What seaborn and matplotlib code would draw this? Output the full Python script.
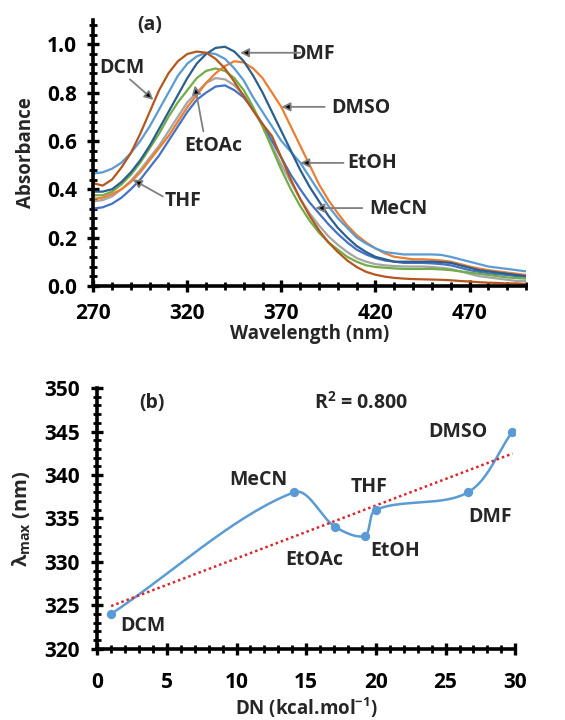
import numpy as np
import pandas as pd
import matplotlib
matplotlib.use("Agg")
import matplotlib.pyplot as plt
from matplotlib.ticker import MultipleLocator, FormatStrFormatter, FixedLocator
import seaborn as sns

# ---------------- data ----------------
wavelength = list(range(270, 505, 5))

abs_dcm = [.425, .415, .44, .49, .55, .63, .72, .81, .88, .93, .96, .97, .965, .94, .90, .845,
           .785, .725, .67, .62, .53, .44, .36, .29, .23, .18, .14, .105, .078, .058, .046, .038,
           .033, .030, .028, .027, .026, .025, .023, .020, .018, .015, .013, .012, .010, .010, .008]
abs_dmf = [.39, .39, .40, .43, .47, .52, .58, .65, .72, .79, .86, .92, .96, .985, .99, .97,
           .93, .87, .80, .72, .64, .56, .48, .41, .35, .29, .24, .20, .165, .14, .12, .11,
           .10, .10, .10, .10, .10, .098, .095, .085, .075, .065, .06, .055, .05, .045, .04]
abs_dmso = [.36, .365, .38, .40, .43, .47, .52, .57, .62, .68, .74, .79, .84, .88, .91, .93,
            .925, .90, .86, .80, .74, .66, .58, .50, .42, .355, .30, .25, .21, .18, .155, .135,
            .12, .115, .11, .11, .108, .105, .10, .09, .08, .072, .065, .06, .055, .05, .045]
abs_etoac = [.375, .375, .39, .42, .46, .51, .57, .63, .70, .76, .81, .86, .89, .90, .89, .86,
             .81, .74, .66, .57, .48, .40, .33, .27, .22, .18, .15, .12, .10, .085, .078, .075,
             .072, .07, .07, .07, .07, .068, .065, .06, .055, .05, .045, .04, .035, .032, .03]
abs_etoh = [.465, .47, .485, .51, .55, .60, .66, .73, .80, .87, .92, .95, .965, .96, .94, .90,
            .85, .78, .72, .66, .60, .555, .51, .45, .39, .33, .28, .24, .20, .175, .155, .14,
            .135, .13, .13, .13, .13, .128, .12, .11, .10, .09, .08, .075, .07, .065, .06]
abs_mecn = [.32, .325, .34, .365, .40, .44, .49, .54, .60, .66, .72, .77, .80, .825, .83, .81,
            .78, .73, .67, .60, .53, .46, .40, .345, .30, .255, .215, .18, .15, .13, .115, .105,
            .10, .095, .095, .095, .093, .09, .085, .075, .065, .058, .052, .048, .045, .04, .038]
abs_thf = [.35, .355, .37, .40, .435, .48, .53, .58, .64, .70, .76, .80, .84, .86, .855, .83,
           .79, .73, .66, .58, .50, .43, .36, .30, .25, .205, .17, .14, .115, .10, .09, .085,
           .082, .08, .08, .08, .078, .075, .07, .06, .05, .04, .035, .03, .025, .02, .02]

solvent_order = ["THF", "MeCN", "EtOAc", "DMSO", "EtOH", "DMF", "DCM"]
spectra = {"DCM": abs_dcm, "DMF": abs_dmf, "DMSO": abs_dmso, "EtOAc": abs_etoac,
           "EtOH": abs_etoh, "MeCN": abs_mecn, "THF": abs_thf}
colors = {"DCM": "#B5561F", "DMF": "#2B5F8E", "DMSO": "#ED7D31", "EtOAc": "#70AD47",
          "EtOH": "#5B9BD5", "MeCN": "#4472C4", "THF": "#A5A5A5"}

x_ticks_a = [270, 320, 370, 420, 470]

dn_solvents = ["DCM", "MeCN", "EtOAc", "EtOH", "THF", "DMF", "DMSO"]
dn_values = [1.0, 14.1, 17.1, 19.2, 20.0, 26.6, 29.8]
lambda_max = [324, 338, 334, 333, 336, 338, 345]
r2_text = "0.800"

# ---------------- style ----------------
FONT = "Open Sans"
sns.set_theme(style="white")
plt.rcParams["font.family"] = [FONT, "DejaVu Sans"]
plt.rcParams["font.weight"] = "bold"
plt.rcParams["mathtext.fontset"] = "custom"
plt.rcParams["mathtext.rm"] = FONT + ":bold"
plt.rcParams["mathtext.bf"] = FONT + ":bold"
plt.rcParams["mathtext.it"] = FONT + ":bold"

fig = plt.figure(figsize=(5.65, 7.2), dpi=100)
ax1 = fig.add_axes([0.165, 0.603, 0.766, 0.369])
ax2 = fig.add_axes([0.172, 0.099, 0.740, 0.362])

FS = 14
TFS = 15


def style_axis(ax, xpad, ypad):
    for s in ["top", "right"]:
        ax.spines[s].set_visible(False)
    for s in ["left", "bottom"]:
        ax.spines[s].set_linewidth(2.6)
        ax.spines[s].set_color("black")
    ax.tick_params(which="major", direction="inout", length=9, width=2.4,
                   labelsize=TFS, colors="black")
    ax.tick_params(which="minor", direction="inout", length=6, width=2.0, colors="black")
    ax.tick_params(axis="x", which="both", bottom=True, pad=xpad)
    ax.tick_params(axis="y", which="both", left=True, pad=ypad)
    ax.grid(False)


# ---------------- panel (a) ----------------
rows = []
for name in solvent_order:
    for w, a in zip(wavelength, spectra[name]):
        rows.append({"wavelength": w, "absorbance": a, "solvent": name})
df_spec = pd.DataFrame(rows)
sns.lineplot(data=df_spec, x="wavelength", y="absorbance", hue="solvent",
             hue_order=solvent_order, palette=colors, linewidth=1.6,
             legend=False, ax=ax1, estimator=None)
ax1.set_xlim(270, 500)
ax1.set_ylim(0, 1.1)
ax1.xaxis.set_major_locator(FixedLocator(x_ticks_a))
ax1.xaxis.set_minor_locator(FixedLocator(list(range(270, 501, 10))))
ax1.yaxis.set_major_locator(MultipleLocator(0.2))
ax1.yaxis.set_minor_locator(MultipleLocator(0.04))
ax1.yaxis.set_major_formatter(FormatStrFormatter("%.1f"))
ax1.set_xlabel("Wavelength (nm)", fontsize=13.5, fontweight="bold", labelpad=0)
ax1.set_ylabel("Absorbance", fontsize=13.5, fontweight="bold", labelpad=8)
style_axis(ax1, xpad=8, ypad=7)
ax1.text(300, 1.08, "(a)", fontsize=FS, fontweight="bold", ha="center", va="center")

arrow_kw = dict(arrowstyle="-|>", edgecolor="#808080", facecolor="black",
                lw=1.3, mutation_scale=13, shrinkA=0, shrinkB=0)
labels_a = [
    ("DCM", (285, 0.90), (289.5, 0.855), (302, 0.77)),
    ("DMF", (387, 0.96), (380, 0.965), (348, 0.965)),
    ("DMSO", (412, 0.737), (393, 0.741), (370, 0.741)),
    ("EtOAc", (334, 0.578), (328.5, 0.64), (324, 0.83)),
    ("EtOH", (418, 0.509), (403, 0.509), (380, 0.509)),
    ("MeCN", (432, 0.318), (413, 0.322), (388, 0.322)),
    ("THF", (318, 0.35), (307, 0.37), (291, 0.44)),
]
for text, tpos, start, tip in labels_a:
    ax1.text(tpos[0], tpos[1], text, fontsize=FS, fontweight="bold",
             ha="center", va="center")
    ax1.annotate("", xy=tip, xytext=start, arrowprops=arrow_kw)

# ---------------- panel (b) ----------------
def excel_smooth(xs, ys, sx=13.9, sy=8.7, n=60):
    """Bezier smoothing through the points, handle lengths scaled by the
    on-screen segment lengths (Excel-like 'smoothed line')."""
    P = np.column_stack([np.asarray(xs, float) * sx, np.asarray(ys, float) * sy])
    m = len(P)
    out = []
    for i in range(m - 1):
        p1, p2 = P[i], P[i + 1]
        d12 = np.linalg.norm(p2 - p1)
        if i > 0:
            d01 = np.linalg.norm(p1 - P[i - 1])
            c1 = p1 + (p2 - P[i - 1]) * d12 / (d01 + d12) / 3.0
        else:
            c1 = p1 + (p2 - p1) / 3.0
        if i + 2 < m:
            d23 = np.linalg.norm(P[i + 2] - p2)
            c2 = p2 - (P[i + 2] - p1) * d12 / (d12 + d23) / 3.0
        else:
            c2 = p2 - (p2 - p1) / 3.0
        t = np.linspace(0, 1, n)[:, None]
        seg = ((1 - t) ** 3) * p1 + 3 * ((1 - t) ** 2) * t * c1 + 3 * (1 - t) * t ** 2 * c2 + t ** 3 * p2
        out.append(seg if i == 0 else seg[1:])
    res = np.vstack(out)
    return res[:, 0] / sx, res[:, 1] / sy

cx, cy = excel_smooth(dn_values, lambda_max)
df_curve = pd.DataFrame({"DN": cx, "lmax": cy})
df_pts = pd.DataFrame({"DN": dn_values, "lmax": lambda_max, "solvent": dn_solvents})

sns.lineplot(data=df_curve, x="DN", y="lmax", sort=False, estimator=None,
             color="#5B9BD5", linewidth=1.8, ax=ax2)
sns.regplot(data=df_pts, x="DN", y="lmax", scatter=False, ci=None, ax=ax2,
            line_kws=dict(color="#D9262B", linestyle=(0, (1, 1.2)), linewidth=1.8))
sns.scatterplot(data=df_pts, x="DN", y="lmax", color="#5B9BD5", s=45,
                edgecolor="#5B9BD5", linewidth=0, ax=ax2, zorder=5)

ax2.set_xlim(0, 30)
ax2.set_ylim(320, 350)
ax2.xaxis.set_major_locator(MultipleLocator(5))
ax2.xaxis.set_minor_locator(MultipleLocator(1))
ax2.yaxis.set_major_locator(MultipleLocator(5))
ax2.yaxis.set_minor_locator(MultipleLocator(1))
ax2.set_xlabel(r"DN (kcal.mol$^{-1}$)", fontsize=13.5, fontweight="bold", labelpad=2)
ax2.set_ylabel(r"λ$_{\mathrm{max}}$ (nm)", fontsize=14.5, fontweight="bold", labelpad=8)
style_axis(ax2, xpad=12, ypad=8)

ax2.text(3.9, 348.3, "(b)", fontsize=FS, fontweight="bold", ha="center", va="center")
ax2.text(18.9, 348.3, r"R$^{2}$ = " + r2_text, fontsize=FS,
         fontweight="bold", ha="center", va="center")
label_pos_b = {"DCM": (3.3, 322.6), "MeCN": (11.6, 339.4), "EtOAc": (15.6, 330.2),
               "EtOH": (21.4, 331.2), "THF": (19.5, 338.6), "DMF": (28.2, 335.2),
               "DMSO": (25.9, 344.9)}
for name in dn_solvents:
    x, y = label_pos_b[name]
    ax2.text(x, y, name, fontsize=FS, fontweight="bold", ha="center", va="center")

fig.savefig("out.png", dpi=100)
